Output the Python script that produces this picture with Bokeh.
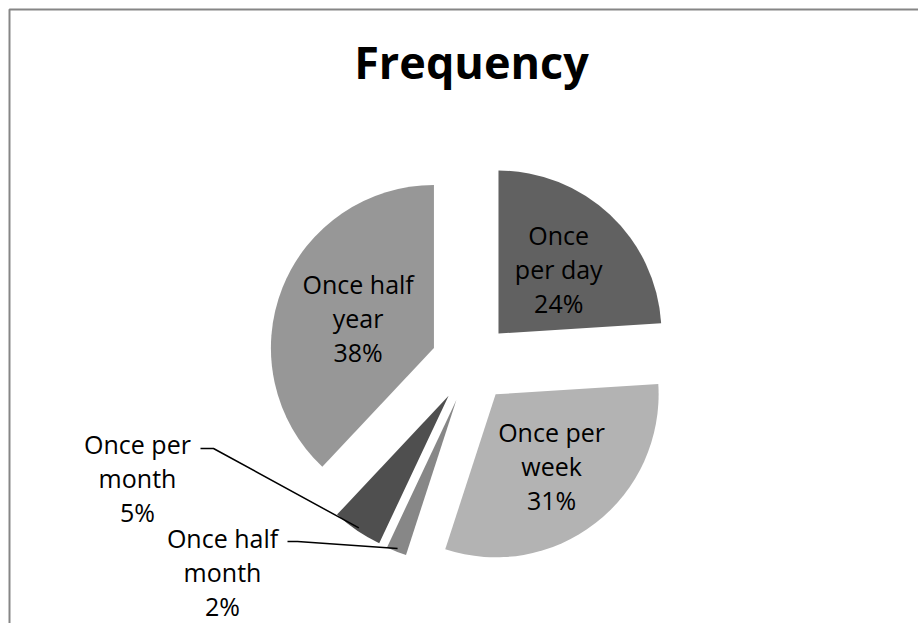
import math
from bokeh.plotting import figure
from bokeh.models import Range1d, ColumnDataSource
from bokeh.core.properties import value
from bokeh.embed import file_html
from bokeh.resources import INLINE

# Survey answers: how often respondents do it (percent of all answers)
categories = ["Once per day", "Once per week", "Once half month", "Once per month", "Once half year"]
shares = [24, 31, 2, 5, 38]
label_texts = ["Once\nper day\n24%", "Once per\nweek\n31%", "Once half\nmonth\n2%",
               "Once per\nmonth\n5%", "Once half\nyear\n38%"]

# Slice fills, in category order
fills = ["#616161", "#b3b3b3", "#878787", "#4f4f4f", "#979797"]

W, H = 918, 623
CX, CY = 470.6, 362.2      # pie centre in page pixels
RADIUS = 163               # pie radius in pixels
EXPLODE = 40               # how far every slice is pulled out
FONT = "Open Sans"


def px(x, y):
    """Page pixel position -> plot coordinates (origin at the pie centre, y up)."""
    return x - CX, CY - y


p = figure(width=W, height=H, output_backend="svg", toolbar_location=None,
           x_range=Range1d(-CX, W - CX), y_range=Range1d(CY - H, CY),
           min_border=0, x_axis_location=None, y_axis_location=None,
           background_fill_color="white", border_fill_color="white")
p.outline_line_color = None
p.xgrid.visible = False
p.ygrid.visible = False

# Slice geometry: clockwise from 12 o'clock, each slice shifted along its mid angle
total = float(sum(shares))
cum = 0.0
apex_x, apex_y, starts, ends, mids = [], [], [], [], []
for s in shares:
    t1 = 360.0 * cum / total
    cum += s
    t2 = 360.0 * cum / total
    tm = math.radians((t1 + t2) / 2)
    mids.append(tm)
    apex_x.append(EXPLODE * math.sin(tm))
    apex_y.append(EXPLODE * math.cos(tm))
    starts.append(math.radians(90 - t2))
    ends.append(math.radians(90 - t1))

src = ColumnDataSource(dict(x=apex_x, y=apex_y, start=starts, end=ends,
                            fill=fills, name=categories, share=shares))
p.wedge(x="x", y="y", radius=RADIUS, start_angle="start", end_angle="end",
        direction="anticlock", fill_color="fill", line_color=None, source=src)

# Data labels: inside labels sit along the slice's mid angle
inside_frac = {0: 0.54, 1: 0.56, 4: 0.50}
outside_pos = {2: (222, 571), 3: (137, 477)}
lx, ly = [], []
for i in range(len(shares)):
    if i in inside_frac:
        r = inside_frac[i] * RADIUS
        lx.append(apex_x[i] + r * math.sin(mids[i]))
        ly.append(apex_y[i] + r * math.cos(mids[i]))
    else:
        x, y = px(*outside_pos[i])
        lx.append(x)
        ly.append(y)

p.text(x=lx, y=ly, text=label_texts, text_align="center", text_baseline="middle",
       text_font=value(FONT), text_font_size="25px", text_line_height=1.0,
       text_color="black")

# Leader lines from the outside labels to the outer edge of their slices
knees = {3: [(200, 448), (213, 448)], 2: [(287, 541), (297, 541)]}
for i, pts in knees.items():
    xs = [px(*q)[0] for q in pts]
    ys = [px(*q)[1] for q in pts]
    xs.append(apex_x[i] + 0.98 * RADIUS * math.sin(mids[i]))
    ys.append(apex_y[i] + 0.98 * RADIUS * math.cos(mids[i]))
    p.line(xs, ys, line_color="black", line_width=1.5)

# Chart title
tx, ty = px(471, 61)
p.text(x=[tx], y=[ty], text=["Frequency"], text_align="center", text_baseline="middle",
       text_font=value(FONT), text_font_style="bold", text_font_size="45px",
       text_color="black")

# Chart area border (top and left edges)
bx = [px(9, H + 5)[0], px(9, 9)[0], px(W + 5, 9)[0]]
by = [px(9, H + 5)[1], px(9, 9)[1], px(W + 5, 9)[1]]
p.line(bx, by, line_color="#868686", line_width=2)

open("out.html", "w").write(file_html(p, INLINE))
